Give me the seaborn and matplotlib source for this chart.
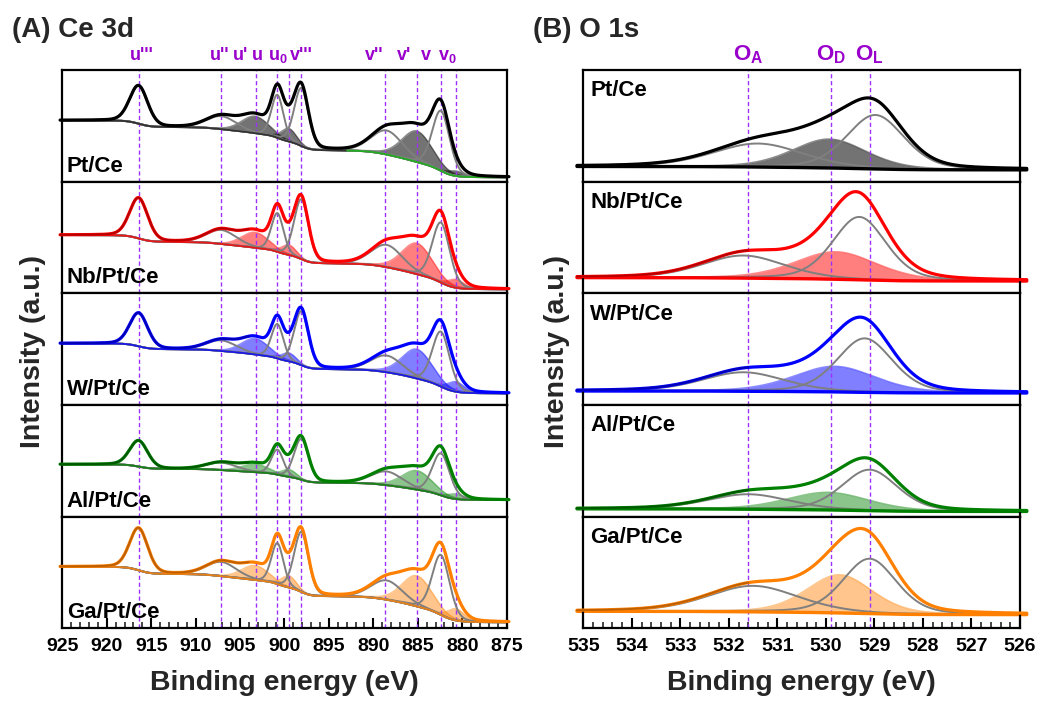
import numpy as np
import pandas as pd
import matplotlib
matplotlib.use("Agg")
import matplotlib.pyplot as plt
import matplotlib.transforms as mtransforms
import seaborn as sns

sns.set_theme(style="white")
plt.rcParams['font.family'] = ['Liberation Sans', 'DejaVu Sans']
plt.rcParams['font.weight'] = 'bold'
plt.rcParams['mathtext.fontset'] = 'custom'
plt.rcParams['mathtext.rm'] = 'Liberation Sans:bold'
plt.rcParams['mathtext.bf'] = 'Liberation Sans:bold'
plt.rcParams['mathtext.it'] = 'Liberation Sans:bold'

# ---------------- data ----------------
SAMPLES = ["Pt/Ce", "Nb/Pt/Ce", "W/Pt/Ce", "Al/Pt/Ce", "Ga/Pt/Ce"]
COLORS = ["#000000", "#ff0000", "#0000ff", "#008000", "#ff8000"]
DARK = ["#000000", "#7a0000", "#00007a", "#003800", "#8a4500"]
FILL_ALPHA = [0.55, 0.5, 0.5, 0.45, 0.45]

# Ce 3d components
CE_LABELS = ["u'''", "u''", "u'", "u", r"u$_0$", "v'''", "v''", "v'", "v", r"v$_0$"]
CE_LABEL_POS = [916.1, 907.3, 904.9, 903.0, 900.7, 898.1, 889.9, 886.5, 884.1, 881.7]
CE_LINE_POS = [916.4, 907.2, 903.2, 900.8, 899.5, 898.1, 888.7, 885.1, 882.4, 880.7]
CE_POS = [916.4, 907.1, 903.3, 900.8, 899.5, 898.1, 888.5, 885.1, 882.4, 880.7]
CE_FWHM = [2.4, 4.0, 3.6, 1.6, 2.0, 1.9, 4.2, 4.0, 2.3, 2.2]
CE_FILLED = [False, False, True, False, True, False, False, True, False, True]
CE_HEIGHT = {
    "Pt/Ce":    [38.0, 13.0, 17.0, 43.0, 13.0, 58.0, 24.0, 31.0, 60.0, 5.0],
    "Nb/Pt/Ce": [40.5, 14.0, 15.5, 38.7, 10.0, 60.0, 22.3, 31.0, 60.0, 8.3],
    "W/Pt/Ce":  [33.3, 10.6, 16.0, 34.4, 8.3, 54.0, 16.7, 29.3, 55.0, 10.0],
    "Al/Pt/Ce": [26.0, 7.4, 8.0, 25.0, 7.3, 41.0, 13.7, 19.0, 42.0, 5.0],
    "Ga/Pt/Ce": [42.3, 14.3, 14.5, 41.0, 11.7, 60.0, 19.3, 30.7, 60.0, 11.7],
}
CE_BG_LOW = [4.3, 4.0, 11.6, 16.6, 6.0]     # background level at 875 eV
CE_BG_HIGH = [61.3, 58.3, 61.6, 52.3, 61.6]  # background level at 925 eV
CE_XTICKS = [925, 920, 915, 910, 905, 900, 895, 890, 885, 880, 875]
PT_BG_SPLIT = 893.0

# O 1s components: O_A, O_D, O_L
O_LABELS = [r"O$_\mathregular{A}$", r"O$_\mathregular{D}$", r"O$_\mathregular{L}$"]
O_LINE_POS = [531.6, 529.9, 529.1]
O_FILLED = [False, True, False]
O_POS = {
    "Pt/Ce":    [531.4, 529.93, 528.98],
    "Nb/Pt/Ce": [531.7, 529.79, 529.31],
    "W/Pt/Ce":  [531.7, 529.82, 529.20],
    "Al/Pt/Ce": [531.6, 529.96, 529.10],
    "Ga/Pt/Ce": [531.5, 529.72, 529.10],
}
O_HEIGHT = {
    "Pt/Ce":    [23.5, 29.0, 54.0],
    "Nb/Pt/Ce": [22.6, 27.6, 63.0],
    "W/Pt/Ce":  [19.0, 25.7, 54.0],
    "Al/Pt/Ce": [15.0, 17.7, 41.0],
    "Ga/Pt/Ce": [26.0, 38.3, 55.0],
}
O_FWHM = {
    "Pt/Ce":    [2.2, 1.8, 1.4],
    "Nb/Pt/Ce": [2.0, 2.0, 1.3],
    "W/Pt/Ce":  [2.0, 2.0, 1.35],
    "Al/Pt/Ce": [2.0, 2.0, 1.35],
    "Ga/Pt/Ce": [2.2, 1.6, 1.3],
}
O_BG_LOW = [11.8, 12.3, 12.0, 5.2, 13.7]   # at 526 eV
O_BG_HIGH = [15.2, 15.7, 14.0, 7.8, 17.0]  # at 535 eV
O_XTICKS = [535, 534, 533, 532, 531, 530, 529, 528, 527, 526]

VLINE_COLOR = "#9b30ff"
LABEL_COLOR = "#9900cc"
GRAY = "#7f7f7f"


def pvoigt(E, c, h, w, eta):
    d = (E - c) / w
    return h * ((1 - eta) * np.exp(-4 * np.log(2) * d ** 2) + eta / (1 + 4 * d ** 2))


def shirley(E, psum, low, high):
    order = np.argsort(E)
    Ea, pa = E[order], psum[order]
    cum = np.concatenate([[0.0], np.cumsum(0.5 * (pa[1:] + pa[:-1]) * np.diff(Ea))])
    bgs = low + (high - low) * cum / cum[-1]
    out = np.empty_like(bgs)
    out[order] = bgs
    return out


W_PX, H_PX = 1052, 704
fig = plt.figure(figsize=(W_PX / 100, H_PX / 100), dpi=100)

top_px, bot_px = 70.0, 628.3
hp = (bot_px - top_px) / 5
YMAX = hp

left_x0, left_x1 = 62.3, 506.7
right_x0, right_x1 = 583.3, 1020.0


def make_axes(x0, x1, i):
    y_top = top_px + i * hp
    return fig.add_axes([x0 / W_PX, 1 - (y_top + hp) / H_PX, (x1 - x0) / W_PX, hp / H_PX])


def style_axes(ax, bottom, xticks, minor_step):
    for s in ax.spines.values():
        s.set_color("black")
        s.set_linewidth(1.6)
    ax.set_yticks([])
    ax.set_ylim(0, YMAX)
    if bottom:
        ax.set_xticks(xticks)
        ax.set_xticklabels([str(t) for t in xticks])
        ax.set_xticks(np.arange(min(xticks), max(xticks) + 1e-6, minor_step), minor=True)
        ax.tick_params(axis="x", which="major", direction="in", length=7, width=1.5,
                       labelsize=14, pad=7, bottom=True, colors="black")
        ax.tick_params(axis="x", which="minor", direction="in", length=4, width=1.2, bottom=True)
        for lab in ax.get_xticklabels():
            lab.set_fontweight("bold")
    else:
        ax.set_xticks([])
        ax.set_xticks([], minor=True)
    ax.set_xlabel("")
    ax.set_ylabel("")


E_ce = np.linspace(925.25, 874.75, 1400)
E_o = np.linspace(535.13, 525.86, 900)

# ---------------- Ce 3d ----------------
ce_axes = []
for i, s in enumerate(SAMPLES):
    ax = make_axes(left_x0, left_x1, i)
    ce_axes.append(ax)
    c, dk = COLORS[i], DARK[i]
    comps = [pvoigt(E_ce, p, h, w, 0.2) for p, h, w in zip(CE_POS, CE_HEIGHT[s], CE_FWHM)]
    psum = np.sum(comps, axis=0)
    bg = shirley(E_ce, psum, CE_BG_LOW[i], CE_BG_HIGH[i])
    env = bg + psum

    for p in CE_LINE_POS:
        ax.axvline(p, color=VLINE_COLOR, lw=1.0, ls=(0, (3, 2)), zorder=1.5)

    for comp, filled in zip(comps, CE_FILLED):
        if filled:
            ax.fill_between(E_ce, bg, bg + comp, color=c, alpha=FILL_ALPHA[i], lw=0, zorder=1)
            ax.plot(E_ce, bg + comp, color=c, alpha=0.45, lw=1.0, zorder=1.2)
        else:
            ax.plot(E_ce, bg + comp, color=GRAY, lw=1.4, zorder=2)

    if s == "Pt/Ce":
        m = E_ce >= PT_BG_SPLIT
        ax.plot(E_ce[m], bg[m], color="#333333", lw=1.3, zorder=2.2)
        ax.plot(E_ce[~m], bg[~m], color="#22aa22", lw=1.3, zorder=2.2)
    else:
        ax.plot(E_ce, bg, color=c, lw=1.3, alpha=0.8, zorder=2.2)

    df = pd.DataFrame({"E": E_ce, "I": env})
    sns.lineplot(data=df, x="E", y="I", ax=ax, color=c, lw=2.3, sort=False,
                 zorder=3, clip_on=False)
    m = E_ce >= 904
    ax.plot(E_ce[m], env[m], color=dk, lw=1.4, alpha=0.55, zorder=3.1, clip_on=False)

    ax.set_xlim(925, 875)
    style_axes(ax, i == 4, CE_XTICKS, 1)
    ax.text(0.01, 0.09, s, transform=ax.transAxes, fontsize=16, fontweight="bold",
            va="baseline", ha="left", color="black", zorder=5)

trans = mtransforms.blended_transform_factory(ce_axes[0].transData, ce_axes[0].transAxes)
for lab, x in zip(CE_LABELS, CE_LABEL_POS):
    ce_axes[0].text(x, 1.09, lab, transform=trans, color=LABEL_COLOR, fontsize=13,
                    fontweight="bold", ha="center", va="baseline", clip_on=False)

# ---------------- O 1s ----------------
o_axes = []
for i, s in enumerate(SAMPLES):
    ax = make_axes(right_x0, right_x1, i)
    o_axes.append(ax)
    c, dk = COLORS[i], DARK[i]
    comps = [pvoigt(E_o, p, h, w, 0.3) for p, h, w in zip(O_POS[s], O_HEIGHT[s], O_FWHM[s])]
    psum = np.sum(comps, axis=0)
    bg = shirley(E_o, psum, O_BG_LOW[i], O_BG_HIGH[i])
    env = bg + psum

    for p in O_LINE_POS:
        ax.axvline(p, color=VLINE_COLOR, lw=1.0, ls=(0, (3, 2)), zorder=1.5)

    for comp, filled in zip(comps, O_FILLED):
        if filled:
            ax.fill_between(E_o, bg, bg + comp, color=c, alpha=FILL_ALPHA[i], lw=0, zorder=1)
            ax.plot(E_o, bg + comp, color=c, alpha=0.45, lw=1.0, zorder=1.2)
        else:
            ax.plot(E_o, bg + comp, color=GRAY, lw=1.4, zorder=2)

    ax.plot(E_o, bg, color=c, lw=2.4, zorder=2.2, clip_on=False)
    df = pd.DataFrame({"E": E_o, "I": env})
    sns.lineplot(data=df, x="E", y="I", ax=ax, color=c, lw=2.3, sort=False,
                 zorder=3, clip_on=False)
    m = E_o >= 531.6
    ax.plot(E_o[m], env[m], color=dk, lw=1.4, alpha=0.55, zorder=3.1, clip_on=False)

    ax.set_xlim(535, 526)
    style_axes(ax, i == 4, O_XTICKS, 0.2)
    ax.text(0.016, 0.765, s, transform=ax.transAxes, fontsize=16, fontweight="bold",
            va="baseline", ha="left", color="black", zorder=5)

trans = mtransforms.blended_transform_factory(o_axes[0].transData, o_axes[0].transAxes)
for lab, x in zip(O_LABELS, O_LINE_POS):
    o_axes[0].text(x, 1.09, lab, transform=trans, color=LABEL_COLOR, fontsize=16,
                   fontweight="bold", ha="center", va="baseline", clip_on=False)

# ---------------- titles and axis labels ----------------
fig.text(12 / W_PX, 1 - 37 / H_PX, "(A) Ce 3d", fontsize=20, fontweight="bold", va="baseline")
fig.text(533 / W_PX, 1 - 37 / H_PX, "(B) O 1s", fontsize=20, fontweight="bold", va="baseline")
fig.text(284.5 / W_PX, 1 - 683 / H_PX, "Binding energy (eV)", fontsize=20.5, fontweight="bold",
         ha="center", va="center")
fig.text(801.6 / W_PX, 1 - 683 / H_PX, "Binding energy (eV)", fontsize=20.5, fontweight="bold",
         ha="center", va="center")
fig.text(33 / W_PX, 1 - 351 / H_PX, "Intensity (a.u.)", fontsize=20.5, fontweight="bold",
         rotation=90, ha="center", va="center")
fig.text(557 / W_PX, 1 - 351 / H_PX, "Intensity (a.u.)", fontsize=20.5, fontweight="bold",
         rotation=90, ha="center", va="center")

fig.savefig("out.png", dpi=100)
